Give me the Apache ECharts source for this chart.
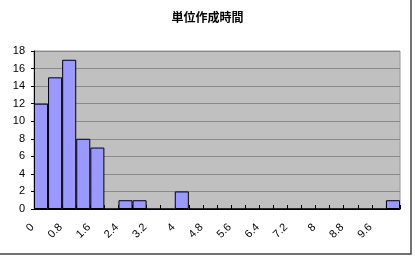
<!DOCTYPE html>
<html><head><meta charset="utf-8">
<script src="https://cdn.jsdelivr.net/npm/echarts@6/dist/echarts.min.js"></script>
<style>html,body{margin:0;padding:0;background:#fff}#c{width:415px;height:256px}</style>
</head><body><div id="c"></div>
<script>
var titleText = '単位作成時間';
var categories = ['0','0.4','0.8','1.2','1.6','2','2.4','2.8','3.2','3.6','4','4.4','4.8','5.2','5.6','6','6.4','6.8','7.2','7.6','8','8.4','8.8','9.2','9.6','10'];
var counts = [12,15,17,8,7,0,1,1,0,0,2,0,0,0,0,0,0,0,0,0,0,0,0,0,0,1];
var yTicks = {min:0, max:18, interval:2};

var chart = echarts.init(document.getElementById('c'), null, {renderer:'canvas'});
chart.setOption({
  animation:false,
  backgroundColor:'#fff',
  title:{text:titleText, top:6, left:'center',
    textStyle:{fontFamily:'Noto Sans CJK JP', fontSize:12, fontWeight:'bold', color:'#000'}},
  grid:{left:34, right:15, top:51, bottom:47, show:true, backgroundColor:'#c0c0c0', borderColor:'#999', borderWidth:1, containLabel:false},
  xAxis:{type:'category', data:categories, boundaryGap:true,
    axisLine:{lineStyle:{color:'#000', width:1}},
    axisTick:{show:true, inside:true, length:4, interval:0, lineStyle:{color:'#000'}},
    axisLabel:{interval:1, rotate:45, margin:8, padding:[0,12,0,0], fontSize:11, fontFamily:'Liberation Sans', color:'#000'},
    splitLine:{show:false}},
  yAxis:{type:'value', min:yTicks.min, max:yTicks.max, interval:yTicks.interval,
    axisLine:{show:true, lineStyle:{color:'#000'}},
    axisTick:{show:true, length:3, lineStyle:{color:'#000'}},
    axisLabel:{fontSize:11, fontFamily:'Liberation Sans', color:'#000', margin:9},
    splitLine:{show:true, lineStyle:{color:'#8a8a8a', width:1}}},
  series:[{type:'bar', data:counts, barCategoryGap:'0%',
    itemStyle:{color:'#9999ff', borderColor:'#000', borderWidth:1}}],
  graphic:[{type:'rect', shape:{x:-2, y:-2, width:413, height:256}, style:{fill:null, stroke:'#444', lineWidth:1.5}, silent:true}]
});
</script></body></html>
